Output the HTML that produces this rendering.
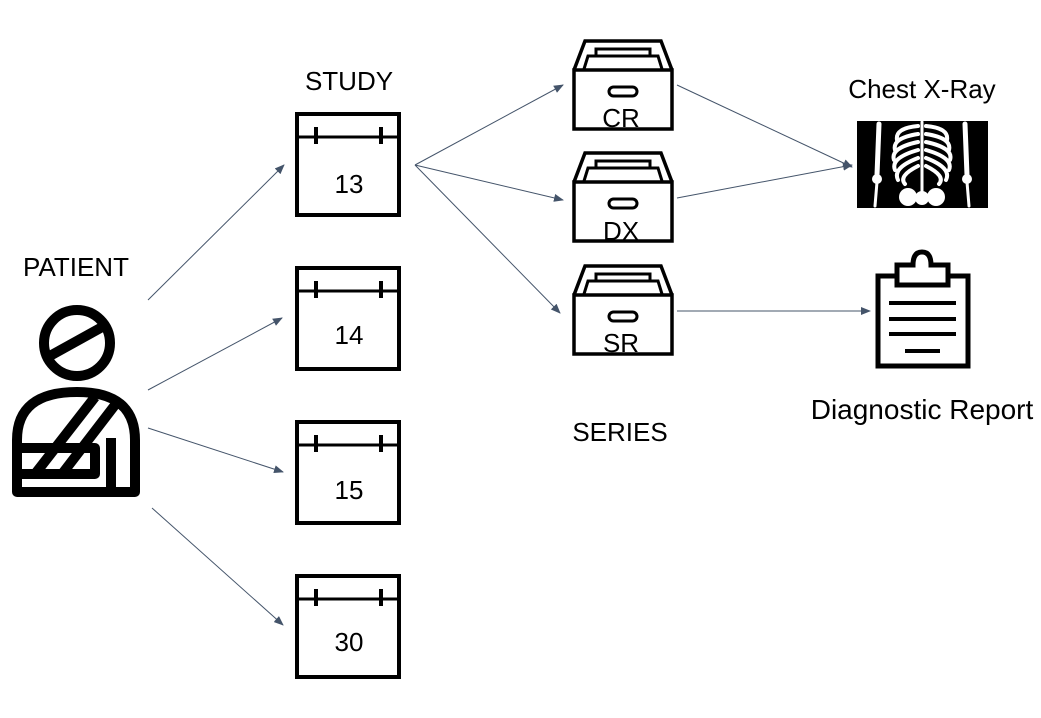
<!DOCTYPE html>
<html><head><style>
body{margin:0;background:#fff;}
svg{display:block;}
text{font-family:"Liberation Sans",sans-serif;fill:#000;}
</style></head><body>
<svg width="1041" height="718" viewBox="0 0 1041 718">
<defs>
<marker id="a" markerWidth="10" markerHeight="8" refX="9" refY="4" orient="auto" markerUnits="userSpaceOnUse"><path d="M0,0 L10,4 L0,8 z" fill="#44546a"/></marker>
<g id="cal"><rect x="0" y="0" width="102" height="101" fill="none" stroke="#000" stroke-width="4"/><line x1="0" y1="23" x2="102" y2="23" stroke="#000" stroke-width="3"/><line x1="19" y1="13" x2="19" y2="30" stroke="#000" stroke-width="4"/><line x1="84" y1="13" x2="84" y2="30" stroke="#000" stroke-width="4"/></g>
<g id="drw"><path d="M2,30 L13,1 L89,1 L100,30" fill="none" stroke="#000" stroke-width="3.5"/><path d="M12,29 L16,16 L86,16 L90,29" fill="none" stroke="#000" stroke-width="3"/><path d="M24,15 L24,9 L78,9 L78,15" fill="none" stroke="#000" stroke-width="3"/><rect x="2" y="30" width="98" height="59" fill="none" stroke="#000" stroke-width="3.5"/><rect x="37" y="47" width="28" height="9" rx="4.5" fill="none" stroke="#000" stroke-width="3"/></g>
</defs>
<g stroke="#44546a" stroke-width="1" fill="none" marker-end="url(#a)">
<line x1="148" y1="300" x2="284" y2="165"/>
<line x1="148" y1="390" x2="282" y2="318"/>
<line x1="148" y1="428" x2="283" y2="472"/>
<line x1="152" y1="508" x2="283" y2="625"/>
<line x1="415" y1="165" x2="563" y2="85"/>
<line x1="415" y1="165" x2="563" y2="200"/>
<line x1="415" y1="165" x2="560" y2="313"/>
<line x1="677" y1="85" x2="852" y2="167"/>
<line x1="677" y1="198" x2="852" y2="165"/>
<line x1="677" y1="311" x2="870" y2="311"/>
</g>
<g font-size="26" text-anchor="middle">
<text x="76" y="276">PATIENT</text>
<text x="349" y="90">STUDY</text>
<text x="620" y="441">SERIES</text>
<text x="922" y="98">Chest X-Ray</text>
<text x="922" y="419" font-size="28">Diagnostic Report</text>
<text x="349" y="193">13</text>
<text x="349" y="344">14</text>
<text x="349" y="499">15</text>
<text x="349" y="651">30</text>
<text x="621" y="127">CR</text>
<text x="621" y="240">DX</text>
<text x="621" y="352">SR</text>
</g>
<!-- patient -->
<g fill="none" stroke="#000" stroke-width="10" stroke-linejoin="round">
<circle cx="77" cy="343" r="33"/>
<line x1="48" y1="357" x2="104" y2="326"/>
<path d="M17,492 L17,440 Q17,392 77,392 Q135,392 135,440 L135,492 Z"/>
<line x1="111" y1="438" x2="111" y2="490"/>
<rect x="17" y="448" width="78" height="26"/>
<line x1="95" y1="397" x2="35" y2="474"/>
<line x1="115" y1="405" x2="62" y2="474"/>
</g>
<use href="#cal" x="297" y="114"/>
<use href="#cal" x="297" y="268"/>
<use href="#cal" x="297" y="422"/>
<use href="#cal" x="297" y="576"/>
<use href="#drw" x="572" y="40"/>
<use href="#drw" x="572" y="152"/>
<use href="#drw" x="572" y="265"/>
<!-- xray -->
<rect x="857" y="121" width="131" height="87" fill="#000"/>
<g stroke="#fff" fill="none" stroke-linecap="round">
<line x1="922" y1="122" x2="922" y2="192" stroke-width="3"/>
<path d="M918,126 Q895,128 897,140 M918,134 Q892,138 895,150 M918,142 Q890,148 894,160 M918,150 Q890,158 895,170 M918,158 Q892,168 898,180 M918,166 Q898,176 905,184 M926,126 Q949,128 947,140 M926,134 Q952,138 949,150 M926,142 Q954,148 950,160 M926,150 Q954,158 949,170 M926,158 Q952,168 946,180 M926,166 Q946,176 939,184" stroke-width="4"/>
<line x1="879" y1="124" x2="877" y2="175" stroke-width="5"/><line x1="877" y1="182" x2="875" y2="206" stroke-width="3"/>
<line x1="965" y1="124" x2="967" y2="175" stroke-width="5"/><line x1="967" y1="182" x2="969" y2="206" stroke-width="3"/>
</g>
<g fill="#fff"><circle cx="908" cy="197" r="9"/><circle cx="936" cy="197" r="9"/><circle cx="922" cy="198" r="7"/><circle cx="877" cy="179" r="5"/><circle cx="967" cy="179" r="5"/></g>
<!-- clipboard -->
<g fill="none" stroke="#000" stroke-width="5">
<rect x="878" y="276" width="90" height="90"/>
<path d="M897,285 L897,265 L913,265 Q913,252 922,252 Q931,252 931,265 L948,265 L948,285 Z" fill="#fff"/>
</g>
<g stroke="#000" stroke-width="4"><line x1="889" y1="303" x2="956" y2="303"/><line x1="889" y1="319" x2="956" y2="319"/><line x1="889" y1="334" x2="956" y2="334"/><line x1="905" y1="351" x2="940" y2="351"/></g>
</svg>
</body></html>
